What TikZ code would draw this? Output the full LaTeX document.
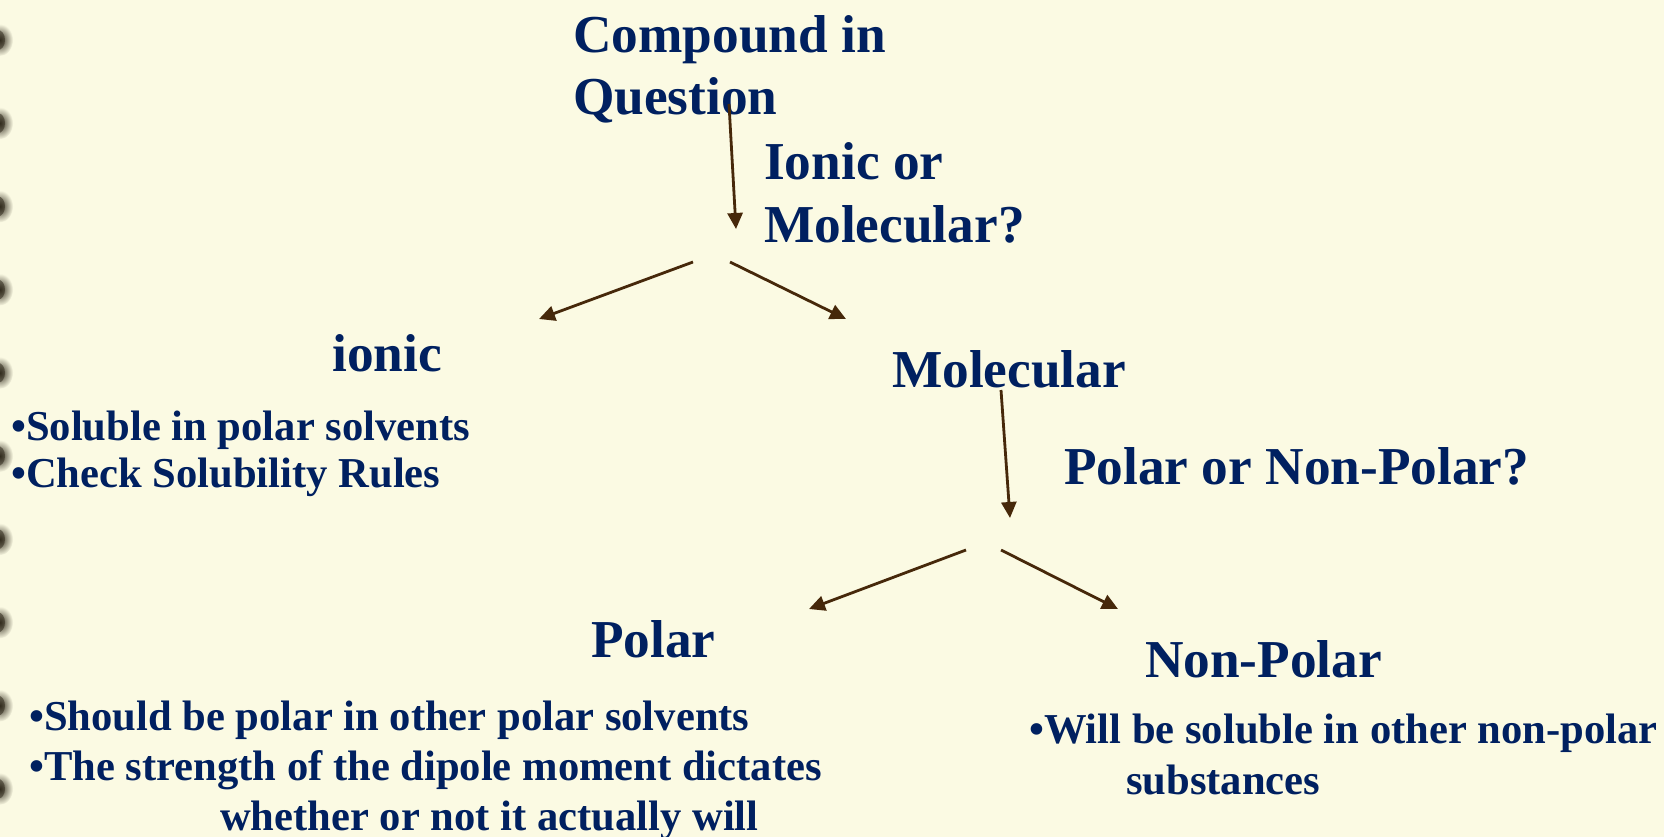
\documentclass[tikz,border=0pt]{standalone}
\usepackage{fontspec}
\setmainfont{Liberation Serif}
\usetikzlibrary{arrows.meta}
\definecolor{bg}{RGB}{251,250,227}
\definecolor{navy}{RGB}{0,32,96}
\definecolor{arrowbrown}{RGB}{70,40,10}
\definecolor{ringdot}{RGB}{50,44,30}
\tikzset{
  heading/.style={anchor=base west, inner sep=0pt, text=navy, font=\bfseries\fontsize{53.3}{62}\selectfont},
  bullet/.style={anchor=base west, inner sep=0pt, text=navy, font=\bfseries\fontsize{42.6}{48}\selectfont},
  flow/.style={draw=arrowbrown, line width=2.8pt, -{Triangle[length=16pt,width=15pt]}},
}
\begin{document}
\begin{tikzpicture}[x=1pt,y=-1pt]
\useasboundingbox (0,0) rectangle (1664,837);
\fill[bg] (0,0) rectangle (1664,837);
% binder ring shadows on the left edge
\foreach \i in {0,...,9}{
  \shade[inner color=ringdot, outer color=bg] (0,{40+83.2*\i}) ellipse (13 and 16);
  \fill[ringdot, opacity=0.55] (-2,{40+83.2*\i}) ellipse (7 and 10);
}
% headings
\node[heading] (cq1) at (573,53) {Compound in};
\node[heading] (cq2) at (573,115) {Question};
\node[heading] (iom1) at (764,180) {Ionic or};
\node[heading] (iom2) at (764,242) {Molecular?};
\node[heading] (ionic) at (332,371) {ionic};
\node[heading] (molecular) at (892,387) {Molecular};
\node[heading] (pnp) at (1064,484) {Polar or Non-Polar?};
\node[heading] (polar) at (591,657) {Polar};
\node[heading] (nonpolar) at (1145,677) {Non-Polar};
% bullet texts
\node[bullet] (ib1) at (11,440) {•Soluble in polar solvents};
\node[bullet] (ib2) at (11,487) {•Check Solubility Rules};
\node[bullet] (pb1) at (29,730) {•Should be polar in other polar solvents};
\node[bullet] (pb2) at (29,780) {•The strength of the dipole moment dictates};
\node[bullet] (pb3) at (220,830) {whether or not it actually will};
\node[bullet] (nb1) at (1029,743) {•Will be soluble in other non-polar};
\node[bullet] (nb2) at (1126,794) {substances};
% arrow end points
\coordinate (a1s) at (729,104);
\coordinate (a1e) at (736,229);
\coordinate (a2s) at (693,262);
\coordinate (a2e) at (539,319);
\coordinate (a3s) at (730,262);
\coordinate (a3e) at (846,319);
\coordinate (a4s) at (1001,390);
\coordinate (a4e) at (1010,518);
\coordinate (a5s) at (966,550);
\coordinate (a5e) at (809,609);
\coordinate (a6s) at (1001,550);
\coordinate (a6e) at (1118,609);
\draw[flow] (a1s) -- (a1e);
\draw[flow] (a2s) -- (a2e);
\draw[flow] (a3s) -- (a3e);
\draw[flow] (a4s) -- (a4e);
\draw[flow] (a5s) -- (a5e);
\draw[flow] (a6s) -- (a6e);
\end{tikzpicture}
\end{document}
